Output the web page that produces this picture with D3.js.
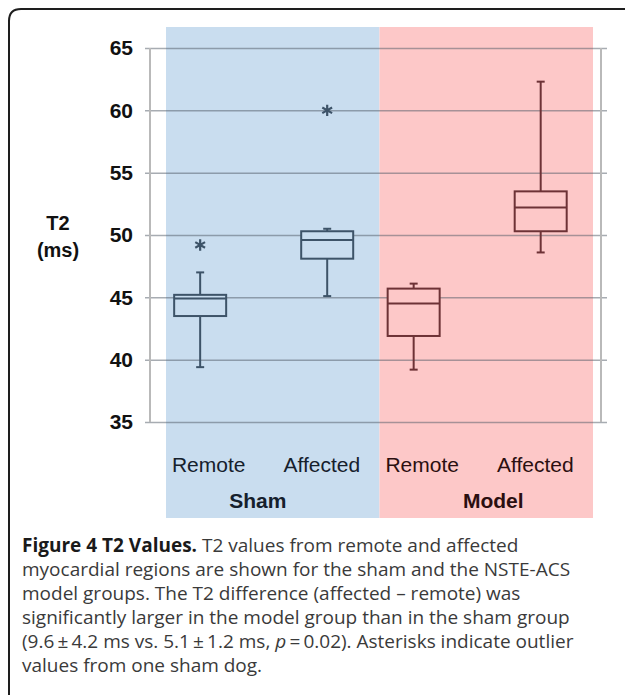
<!DOCTYPE html>
<html>
<head>
<meta charset="utf-8">
<script src="https://cdn.jsdelivr.net/npm/d3@7"></script>
<style>
  body { margin: 0; background: #fff; }
  svg { display: block; }
</style>
</head>
<body>
<div id="chart"></div>
<script>
// chart values
var groups = ["Sham", "Model"];
var regions = ["Remote", "Affected"];

// one entry per box, order: Sham Remote, Sham Affected, Model Remote, Model Affected
var boxGroup = ["Sham", "Sham", "Model", "Model"];
var boxRegion = ["Remote", "Affected", "Remote", "Affected"];
var whiskerLow = [39.4, 45.1, 39.2, 48.6];
var quart1 = [43.5, 48.1, 41.9, 50.3];
var medians = [44.9, 49.6, 44.5, 52.2];
var quart3 = [45.2, 50.3, 45.7, 53.5];
var whiskerHigh = [47.0, 50.5, 46.1, 62.3];

var outlierGroup = ["Sham", "Sham"];
var outlierRegion = ["Remote", "Affected"];
var outlierValue = [49.2, 60.0];

var yTicks = [35, 40, 45, 50, 55, 60, 65];

var captionBold = "Figure 4 T2 Values.";
var captionLines = [
  " T2 values from remote and affected",
  "myocardial regions are shown for the sham and the NSTE-ACS",
  "model groups. The T2 difference (affected \u2013 remote) was",
  "significantly larger in the model group than in the sham group",
  null, // line with the italic p, built below
  "values from one sham dog."
];

//---------------------------------------------------------------
// sizes
var width = 625, height = 695;
var panelTop = 27, panelBottom = 518;

var groupColors = { Sham: "#c9ddef", Model: "#fdc8c8" };
var boxColors = { Sham: "#3d5368", Model: "#6d3236" };
var textColors = { Sham: "#15202c", Model: "#2b0f10" };

var svg = d3.select("#chart").append("svg")
  .attr("width", width).attr("height", height);

// frame with rounded top-left corner, open at right/bottom
svg.append("path")
  .attr("d", "M9,695 L9,21 Q9,9 21,9 L625,9")
  .attr("fill", "none").attr("stroke", "#1e1e1e").attr("stroke-width", 2);

// scales
var y = d3.scaleLinear().domain([35, 65]).range([422, 48]);

var xGroup = d3.scaleBand().domain(groups).range([166, 593]).paddingInner(0);
var bw = xGroup.bandwidth();
var xRegion = d3.scalePoint().domain(regions).range([bw * 0.16, bw * 0.755]);
var xLabel = d3.scalePoint().domain(regions).range([bw * 0.2, bw * 0.73]);

function cx(g, r) { return xGroup(g) + xRegion(r); }

// group panels
svg.append("g").selectAll("rect").data(groups).enter().append("rect")
  .attr("x", function(d) { return xGroup(d); })
  .attr("y", panelTop)
  .attr("width", bw)
  .attr("height", panelBottom - panelTop)
  .attr("fill", function(d) { return groupColors[d]; });

// gridlines + tick labels via the axis
var yAxis = d3.axisLeft(y).tickValues(yTicks).tickSizeInner(-(607 - 145)).tickSizeOuter(0).tickPadding(12);
var axisG = svg.append("g").attr("transform", "translate(145,0)").call(yAxis);
axisG.select(".domain").remove();
axisG.selectAll(".tick line").attr("stroke", "#4f5a66").attr("stroke-opacity", 0.5).attr("stroke-width", 1.5);
axisG.selectAll(".tick text")
  .attr("fill", "#111")
  .style("font-family", "'Liberation Sans', Arial, sans-serif")
  .style("font-weight", "bold")
  .style("font-size", "21px");

// the two light vertical axis lines
svg.append("g").selectAll("line").data([150, 601]).enter().append("line")
  .attr("x1", function(d) { return d; }).attr("x2", function(d) { return d; })
  .attr("y1", y(65)).attr("y2", y(35))
  .attr("stroke", "#b9b9b9").attr("stroke-width", 2);

// y title
var yTitle = svg.append("text")
  .attr("text-anchor", "middle")
  .attr("fill", "#111")
  .style("font-family", "'Liberation Sans', Arial, sans-serif")
  .style("font-weight", "bold")
  .style("font-size", "20px");
yTitle.append("tspan").attr("x", 58).attr("y", 230).text("T2");
yTitle.append("tspan").attr("x", 58).attr("y", 257).text("(ms)");

// boxes
var capHalf = 4, boxHalf = 26;
var boxes = svg.append("g").selectAll("g").data(d3.range(boxGroup.length)).enter().append("g")
  .attr("stroke", function(i) { return boxColors[boxGroup[i]]; })
  .attr("stroke-width", 2);

// whisker stems
boxes.append("line")
  .attr("x1", function(i) { return cx(boxGroup[i], boxRegion[i]); })
  .attr("x2", function(i) { return cx(boxGroup[i], boxRegion[i]); })
  .attr("y1", function(i) { return y(whiskerLow[i]); })
  .attr("y2", function(i) { return y(whiskerHigh[i]); });

// whisker caps
[whiskerLow, whiskerHigh].forEach(function(arr) {
  boxes.append("line")
    .attr("x1", function(i) { return cx(boxGroup[i], boxRegion[i]) - capHalf; })
    .attr("x2", function(i) { return cx(boxGroup[i], boxRegion[i]) + capHalf; })
    .attr("y1", function(i) { return y(arr[i]); })
    .attr("y2", function(i) { return y(arr[i]); });
});

boxes.append("rect")
  .attr("x", function(i) { return cx(boxGroup[i], boxRegion[i]) - boxHalf; })
  .attr("y", function(i) { return y(quart3[i]); })
  .attr("width", boxHalf * 2)
  .attr("height", function(i) { return y(quart1[i]) - y(quart3[i]); })
  .attr("fill", function(i) { return groupColors[boxGroup[i]]; });

boxes.append("line")
  .attr("x1", function(i) { return cx(boxGroup[i], boxRegion[i]) - boxHalf; })
  .attr("x2", function(i) { return cx(boxGroup[i], boxRegion[i]) + boxHalf; })
  .attr("y1", function(i) { return y(medians[i]); })
  .attr("y2", function(i) { return y(medians[i]); });

// outlier asterisks
svg.append("g").selectAll("path").data(d3.range(outlierValue.length)).enter().append("path")
  .attr("d", d3.symbol().type(d3.symbolAsterisk).size(90))
  .attr("transform", function(i) {
    return "translate(" + cx(outlierGroup[i], outlierRegion[i]) + "," + y(outlierValue[i]) + ")";
  })
  .attr("stroke", function(i) { return boxColors[outlierGroup[i]]; })
  .attr("stroke-width", 2.2)
  .attr("fill", "none");

// region labels
var catLabels = svg.append("g")
  .style("font-family", "'Liberation Sans', Arial, sans-serif")
  .style("font-size", "21px")
  .attr("text-anchor", "middle");
d3.range(boxGroup.length).forEach(function(i) {
  catLabels.append("text")
    .attr("x", xGroup(boxGroup[i]) + xLabel(boxRegion[i]))
    .attr("y", 472)
    .attr("fill", textColors[boxGroup[i]])
    .text(boxRegion[i]);
});

// group labels
var groupShift = { Sham: -15, Model: 7 };
svg.append("g").selectAll("text").data(groups).enter().append("text")
  .attr("x", function(d) { return xGroup(d) + bw / 2 + groupShift[d]; })
  .attr("y", 508)
  .attr("text-anchor", "middle")
  .attr("fill", function(d) { return textColors[d]; })
  .style("font-family", "'Liberation Sans', Arial, sans-serif")
  .style("font-weight", "bold")
  .style("font-size", "21px")
  .text(function(d) { return d; });

// caption
var cap = svg.append("g")
  .style("font-family", "'Open Sans', 'Noto Sans', sans-serif")
  .style("font-size", "19px")
  .attr("fill", "#3a3a3a");
var lineY = 552, lineStep = 24;
captionLines.forEach(function(txt, k) {
  var t = cap.append("text").attr("x", 22).attr("y", lineY + k * lineStep);
  if (k === 0) {
    t.append("tspan").attr("fill", "#1a1a1a").style("font-weight", "bold").text(captionBold);
    t.append("tspan").text(txt);
  } else if (txt === null) {
    t.append("tspan").text("(9.6\u2009\u00b1\u20094.2 ms vs. 5.1\u2009\u00b1\u20091.2 ms, ");
    t.append("tspan").style("font-style", "italic").text("p");
    t.append("tspan").text("\u2009=\u20090.02). Asterisks indicate outlier");
  } else {
    t.text(txt);
  }
});
</script>
</body>
</html>
